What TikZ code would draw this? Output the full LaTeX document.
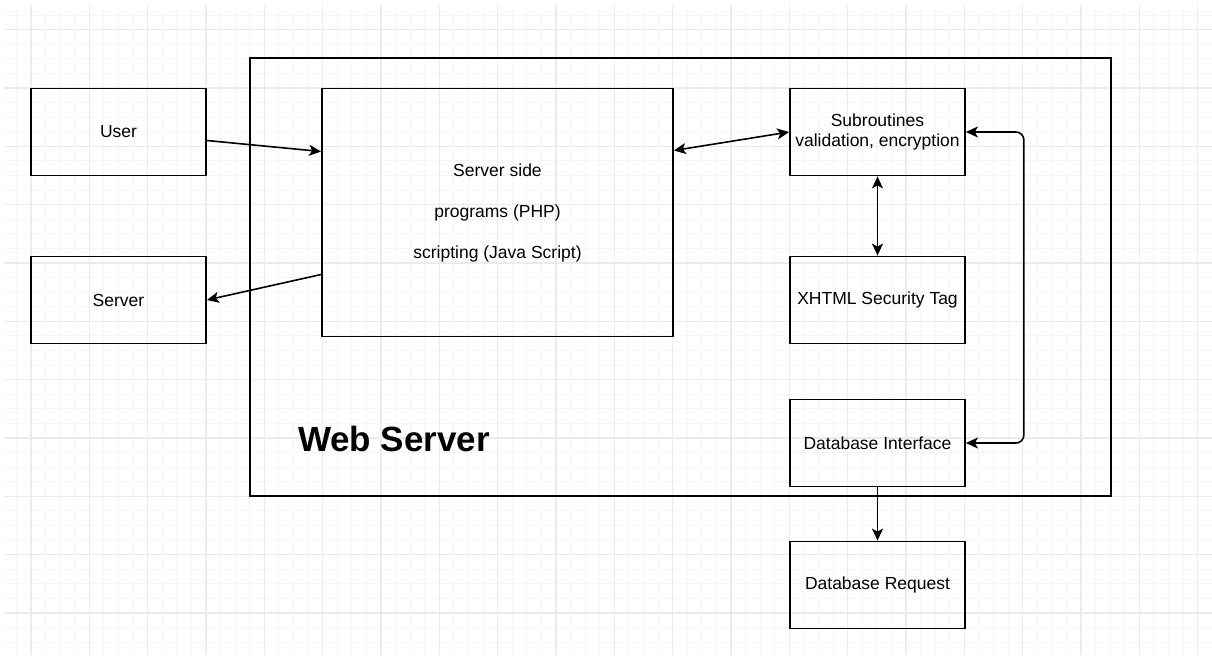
\documentclass[tikz,border=0pt]{standalone}
\usepackage{fontspec}
\setmainfont{Liberation Sans}
\usetikzlibrary{arrows.meta}
\definecolor{gridminor}{RGB}{246,246,246}
\definecolor{gridmajor}{RGB}{235,235,235}
\begin{document}
\begin{tikzpicture}[x=0.5pt,y=-0.5pt,
        box/.style = {draw, line width=0.9pt, inner sep=0pt, minimum width=87.5pt, minimum height=43.5pt,
                      font=\fontsize{8.75}{10}\selectfont, align=center},
        link/.style = {line width=0.8pt, -{Stealth[length=6pt,width=5.5pt,inset=1.5pt]}},
        both/.style = {line width=0.8pt, {Stealth[length=6pt,width=5.5pt,inset=1.5pt]}-{Stealth[length=6pt,width=5.5pt,inset=1.5pt]}}
    ]
        \useasboundingbox (0,0) rectangle (1212,655);
        % grid
        \foreach \k in {-1,...,81} \draw[gridminor, line width=0.5pt] (31+14.583*\k,5) -- (31+14.583*\k,655);
        \foreach \k in {-1,...,43} \draw[gridminor, line width=0.5pt] (4,29.67+14.583*\k) -- (1212,29.67+14.583*\k);
        \foreach \k in {0,...,20} \draw[gridmajor, line width=0.6pt] (31+58.33*\k,5) -- (31+58.33*\k,655);
        \foreach \k in {0,...,10} \draw[gridmajor, line width=0.6pt] (4,29.67+58.33*\k) -- (1212,29.67+58.33*\k);
        % web server frame
        \node[draw, line width=0.9pt, minimum width=430.5pt, minimum height=219pt] (web) at (680.5,277) {};
        \node[font=\fontsize{17.5}{20}\selectfont\bfseries] (webl) at (394,439) {Web Server};
        % boxes
        \node[box] (user) at (118.5,132) {User};
        \node[box] (server) at (118.5,300) {Server};
        \node[box, minimum width=175.5pt, minimum height=124pt, font=\fontsize{8.75}{20.5}\selectfont] (side) at (497.5,212.5)
            {Server side\\programs (PHP)\\scripting (Java Script)};
        \node[box] (sub) at (877.5,132) {Subroutines\\validation, encryption};
        \node[box] (xhtml) at (877.5,300) {XHTML Security Tag};
        \node[box] (dbi) at (877.5,443) {Database Interface};
        \node[box] (req) at (877.5,585) {Database Request};
        % connectors
        \draw[link] ([yshift=-4.25pt]user.east) -- ([yshift=30.5pt]side.west);
        \draw[link] ([yshift=-31pt]side.west) -- (server.east);
        \draw[both] ([yshift=31pt]side.east) -- (sub.west);
        \draw[both] (sub.south) -- (xhtml.north);
        \draw[both, rounded corners=4pt] (sub.east) -- ++(29pt,0) |- (dbi.east);
        \draw[link] (dbi.south) -- (req.north);
    \end{tikzpicture}
\end{document}
